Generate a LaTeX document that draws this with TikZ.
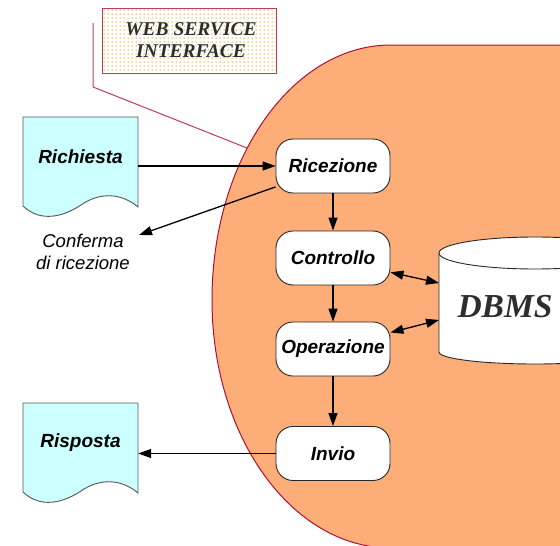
\documentclass[tikz,border=0pt]{standalone}
\usepackage{fontspec}
\setmainfont{Liberation Serif}
\setsansfont{Liberation Sans}
\usetikzlibrary{arrows.meta,calc}

\definecolor{servicefill}{RGB}{253,173,119}
\definecolor{serviceline}{RGB}{176,16,48}
\definecolor{labelline}{RGB}{190,60,90}
\definecolor{dotgold}{RGB}{232,172,40}
\definecolor{docfill}{RGB}{204,255,255}
\definecolor{doclinecol}{RGB}{85,85,85}
\definecolor{titlegray}{RGB}{45,45,45}

\tikzset{
  stepbox/.style={draw=black!85, fill=white, rounded corners=17pt,
    minimum width=114pt, minimum height=54pt, line width=0.9pt,
    font=\sffamily\bfseries\itshape\fontsize{19}{22}\selectfont},
  doctitle/.style={minimum width=115pt, inner sep=0pt,
    font=\sffamily\bfseries\itshape\fontsize{19}{22}\selectfont},
  arr/.style={-{Triangle[length=13pt,width=9pt]}, line width=1.3pt},
  dbl/.style={{Triangle[length=13pt,width=9pt]}-{Triangle[length=13pt,width=9pt]}, line width=1.3pt},
  docline/.style={draw=doclinecol, fill=docfill, line width=0.9pt},
  docpage/.pic={
    \draw[docline] (0,0) -- (115,0) -- (115,90)
      .. controls (101,78) and (81,74) .. (61,86)
      .. controls (41,100) and (18,106) .. (0,89) -- cycle;
  }
}

\begin{document}
\begin{tikzpicture}[x=1pt,y=-1pt]
\useasboundingbox (0,0) rectangle (560,546);
\clip (0,0) rectangle (560,546);

% service body: flat top edge, elliptical left side
\draw[fill=servicefill, draw=serviceline, line width=1pt]
  (620,45) -- (391,45)
  arc[start angle=90, end angle=180, x radius=179pt, y radius=255pt]
  arc[start angle=180, end angle=270, x radius=179pt, y radius=248pt]
  -- (620,548) -- cycle;

% dotted label box
\begin{scope}
  \clip (102,8) rectangle (276,73);
  \foreach \i in {0,...,44}
    \foreach \j in {0,...,16}
      \fill[dotgold] (104+\i*4,10+\j*4) circle (0.75pt);
\end{scope}
\node[draw=labelline, line width=1pt, minimum width=174pt, minimum height=65pt,
      inner sep=0pt] (wsi) at (189,40.5) {};
\node[font=\bfseries\itshape\fontsize{19.5}{22}\selectfont, text=titlegray,
      align=center] (wsitext) at (191,40) {WEB SERVICE\\INTERFACE};

% callout line
\coordinate (callA) at (93,23);
\coordinate (callB) at (93,87);
\coordinate (callC) at (247,148);
\draw[labelline, line width=1pt] (callA) -- (callB) -- (callC);

% documents
\pic at (23,117) {docpage};
\pic at (23,403) {docpage};
\node[doctitle] (req) at (80.5,157) {Richiesta};
\node[doctitle] (rsp) at (80.5,443) {Risposta};

\node[align=center, font=\sffamily\itshape\fontsize{18.5}{21.5}\selectfont]
  (conf) at (83,252) {Conferma\\di ricezione};
\coordinate (confTip) at (139,235);

% process steps
\node[stepbox] (rec) at (333,166) {Ricezione};
\node[stepbox] (ctl) at (333,258) {Controllo};
\node[stepbox] (op)  at (333,349) {Operazione};
\node[stepbox] (inv) at (333,453.5) {Invio};

% database cylinder
\draw[fill=white, draw=black!85, line width=0.9pt]
  (439,253) -- (439,352)
  arc[start angle=180, end angle=360, x radius=96pt, y radius=12pt]
  -- (631,253);
\draw[fill=white, draw=black!85, line width=0.9pt]
  (535,253) ellipse[x radius=96pt, y radius=16pt];
\node[font=\bfseries\itshape\fontsize{33.5}{36}\selectfont, text=titlegray]
  (db) at (505,307) {DBMS};
\coordinate (dbA) at (439,283);
\coordinate (dbB) at (439,320);

% connectors
\draw[arr] (rec.west -| req.east) -- (rec.west);
\draw[arr] (rec.200) -- (confTip);
\draw[arr] (rec.south) -- (ctl.north);
\draw[arr] (ctl.south) -- (op.north);
\draw[arr] (op.south) -- (inv.north);
\draw[arr] (inv.west) -- (inv.west -| rsp.east);
\draw[dbl] (ctl.-14) -- (dbA);
\draw[dbl] (op.16) -- (dbB);
\end{tikzpicture}
\end{document}
